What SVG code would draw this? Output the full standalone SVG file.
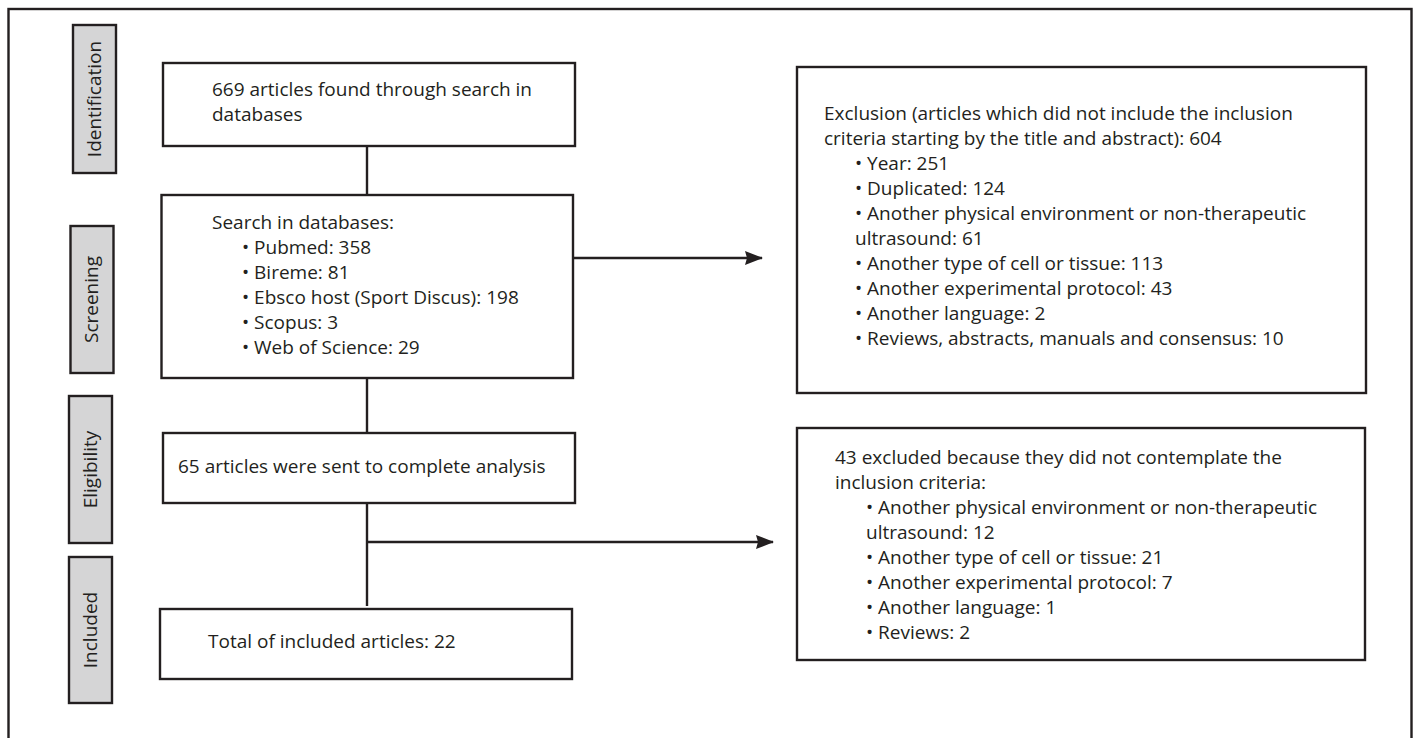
<svg xmlns="http://www.w3.org/2000/svg" width="1417" height="738" viewBox="0 0 1417 738">
<style>
.box{fill:#ffffff;stroke:#231f20;stroke-width:2.4}
.side{fill:#d5d5d6;stroke:#231f20;stroke-width:2.4}
.t{font-family:"Open Sans","Noto Sans","Liberation Sans",sans-serif;font-size:19px;fill:#231f20}
.st{font-family:"Open Sans","Noto Sans","Liberation Sans",sans-serif;font-size:19px;fill:#231f20;text-anchor:middle}
.c{fill:none;stroke:#231f20;stroke-width:2.4}
</style>
<defs>
<marker id="ah" viewBox="0 0 18 14" refX="17" refY="7" markerWidth="18" markerHeight="14" markerUnits="userSpaceOnUse" orient="auto" preserveAspectRatio="none">
<path d="M0,0 L18,7 L0,14 L2,7 z" fill="#231f20"/>
</marker>
</defs>
<rect width="1417" height="738" fill="#ffffff"/>
<rect x="8.5" y="9" width="1403" height="760" fill="none" stroke="#231f20" stroke-width="2.4"/>

<g id="stage-identification">
<rect class="side" x="73" y="25" width="43" height="148"/>
<text class="st" transform="translate(100.5,99) rotate(-90)">Identification</text>
</g>
<g id="stage-screening">
<rect class="side" x="70.5" y="226" width="43" height="147"/>
<text class="st" transform="translate(98,299.5) rotate(-90)">Screening</text>
</g>
<g id="stage-eligibility">
<rect class="side" x="69" y="396" width="43" height="147"/>
<text class="st" transform="translate(96.5,469.5) rotate(-90)">Eligibility</text>
</g>
<g id="stage-included">
<rect class="side" x="69" y="557" width="43" height="146"/>
<text class="st" transform="translate(96.5,630) rotate(-90)">Included</text>
</g>

<g id="connectors">
<line class="c" x1="367" y1="146" x2="367" y2="195"/>
<line class="c" x1="367" y1="378" x2="367" y2="433"/>
<line class="c" x1="367" y1="503" x2="367" y2="606"/>
<line class="c" x1="573" y1="258" x2="762" y2="258" marker-end="url(#ah)"/>
<line class="c" x1="367" y1="542" x2="773" y2="542" marker-end="url(#ah)"/>
</g>

<g id="node-found">
<rect class="box" x="163" y="63" width="412" height="83"/>
<text class="t" x="212" y="96">669 articles found through search in</text>
<text class="t" x="212" y="121">databases</text>
</g>
<g id="node-search">
<rect class="box" x="161.5" y="195" width="411.5" height="183"/>
<text class="t" x="212" y="229">Search in databases:</text>
<text class="t" x="242" y="254">• Pubmed: 358</text>
<text class="t" x="242" y="279">• Bireme: 81</text>
<text class="t" x="242" y="304">• Ebsco host (Sport Discus): 198</text>
<text class="t" x="242" y="329">• Scopus: 3</text>
<text class="t" x="242" y="354">• Web of Science: 29</text>
</g>
<g id="node-eligible">
<rect class="box" x="163" y="433" width="412" height="70"/>
<text class="t" x="178" y="473">65 articles were sent to complete analysis</text>
</g>
<g id="node-included">
<rect class="box" x="160" y="609" width="412" height="70"/>
<text class="t" x="208" y="648">Total of included articles: 22</text>
</g>
<g id="node-exclusion1">
<rect class="box" x="797" y="67" width="569" height="326"/>
<text class="t" x="824" y="120">Exclusion (articles which did not include the inclusion</text>
<text class="t" x="824" y="145">criteria starting by the title and abstract): 604</text>
<text class="t" x="855" y="170">• Year: 251</text>
<text class="t" x="855" y="195">• Duplicated: 124</text>
<text class="t" x="855" y="220">• Another physical environment or non-therapeutic</text>
<text class="t" x="855" y="245">ultrasound: 61</text>
<text class="t" x="855" y="270">• Another type of cell or tissue: 113</text>
<text class="t" x="855" y="295">• Another experimental protocol: 43</text>
<text class="t" x="855" y="320">• Another language: 2</text>
<text class="t" x="855" y="345">• Reviews, abstracts, manuals and consensus: 10</text>
</g>
<g id="node-exclusion2">
<rect class="box" x="797" y="428" width="568" height="232"/>
<text class="t" x="835" y="464">43 excluded because they did not contemplate the</text>
<text class="t" x="835" y="489">inclusion criteria:</text>
<text class="t" x="866" y="514">• Another physical environment or non-therapeutic</text>
<text class="t" x="866" y="539">ultrasound: 12</text>
<text class="t" x="866" y="564">• Another type of cell or tissue: 21</text>
<text class="t" x="866" y="589">• Another experimental protocol: 7</text>
<text class="t" x="866" y="614">• Another language: 1</text>
<text class="t" x="866" y="639">• Reviews: 2</text>
</g>
</svg>
